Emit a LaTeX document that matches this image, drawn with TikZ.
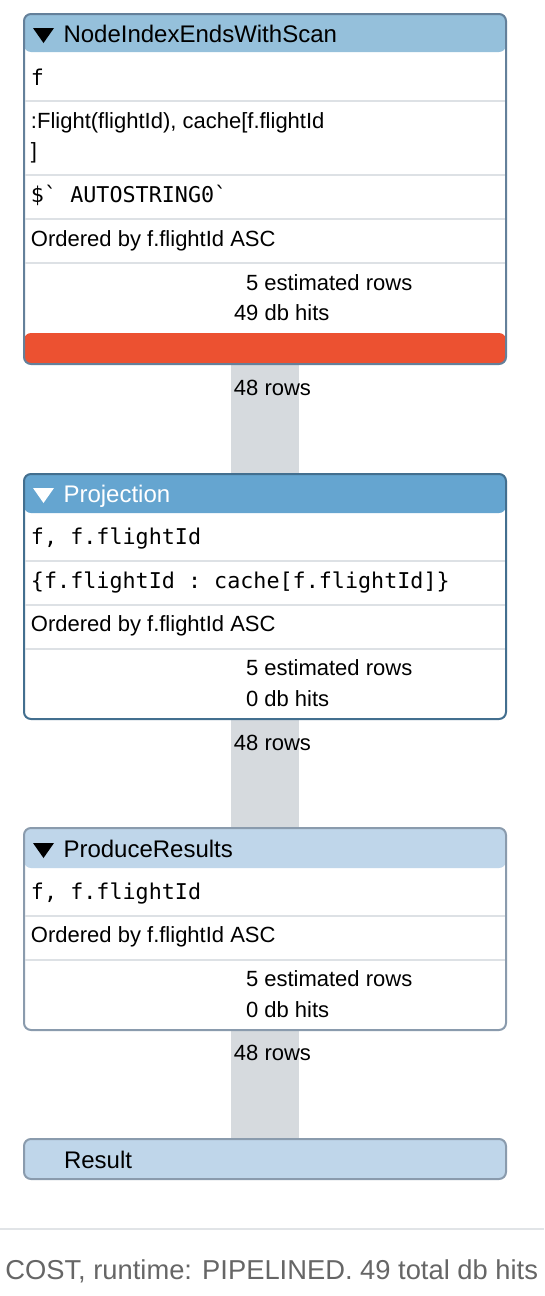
\documentclass[tikz,border=0pt]{standalone}
\usepackage{fontspec}
\setmainfont{Liberation Sans}
\setmonofont{DejaVu Sans Mono}
\usetikzlibrary{backgrounds}
\definecolor{hdrA}{HTML}{95C0DB}
\definecolor{hdrB}{HTML}{65A5D0}
\definecolor{hdrC}{HTML}{BFD6EA}
\definecolor{redc}{HTML}{EC5131}
\definecolor{bordA}{HTML}{64809A}
\definecolor{bordB}{HTML}{436F8F}
\definecolor{bordC}{HTML}{8A9BAD}
\definecolor{sepc}{HTML}{DDE1E5}
\definecolor{connc}{HTML}{D6DADE}
\definecolor{footc}{HTML}{666666}
\definecolor{footl}{HTML}{E1E4E7}
\begin{document}
\begin{tikzpicture}[x=0.75pt,y=-0.75pt,
  every node/.style={inner sep=0pt,outer sep=0pt},
  opbox/.style={rectangle,rounded corners=5.25pt,line width=1.5pt,minimum width=361.5pt,anchor=north west},
  body/.style={font=\fontsize{16.5}{20}\selectfont,anchor=base west,text=black},
  mono/.style={font=\ttfamily\fontsize{16.3}{20}\selectfont,anchor=base west,text=black},
  hdr/.style={font=\fontsize{18}{22}\selectfont,anchor=base west},
  sepline/.style={draw=sepc,line width=1.5pt},
  conn/.style={draw=connc,line width=51pt},
  rowlbl/.style={font=\fontsize{16.5}{20}\selectfont,anchor=base,text=black}
]
\useasboundingbox (0,0) rectangle (544,1296);

% Box 1
\node[opbox,draw=bordA,fill=white,minimum height=262.5pt,
  path picture={
    \fill[hdrA] (path picture bounding box.north west) rectangle ([yshift=-28.5pt]path picture bounding box.north east);
    \fill[redc] ([yshift=23.25pt]path picture bounding box.south west) rectangle (path picture bounding box.south east);
  }] (b1) at (24,14) {};
\fill (33,28) -- (54,28) -- (43.5,43) -- cycle;
\node[hdr] (b1h) at (63.5,42) {NodeIndexEndsWithScan};
\node[mono] (b1r1) at (31,85) {f};
\draw[sepline] (25,101) -- (505,101);
\node[body] (b1r2a) at (31,128) {:Flight(flightId), cache[f.flightId};
\node[body] (b1r2b) at (31,158) {]};
\draw[sepline] (25,175) -- (505,175);
\node[mono] (b1r3) at (31,202) {\$` AUTOSTRING0`};
\draw[sepline] (25,219) -- (505,219);
\node[body] (b1r4) at (31,246) {Ordered by f.flightId ASC};
\draw[sepline] (25,263) -- (505,263);
\node[body] (b1r5) at (246,290) {5 estimated rows};
\node[body] (b1r6) at (234,320) {49 db hits};

% Box 2
\node[opbox,draw=bordB,fill=white,minimum height=183.75pt,
  path picture={
    \fill[hdrB] (path picture bounding box.north west) rectangle ([yshift=-29.25pt]path picture bounding box.north east);
  }] (b2) at (24,474) {};
\fill[white] (33,488) -- (54,488) -- (43.5,503) -- cycle;
\node[hdr,text=white] (b2h) at (63.5,502) {Projection};
\node[mono] (b2r1) at (31,544) {f, f.flightId};
\draw[sepline] (25,561) -- (505,561);
\node[mono] (b2r2) at (31,588) {\{f.flightId : cache[f.flightId]\}};
\draw[sepline] (25,605) -- (505,605);
\node[body] (b2r3) at (31,631) {Ordered by f.flightId ASC};
\draw[sepline] (25,649) -- (505,649);
\node[body] (b2r4) at (246,675) {5 estimated rows};
\node[body] (b2r5) at (246,706) {0 db hits};

% Box 3
\node[opbox,draw=bordC,fill=white,minimum height=151.5pt,
  path picture={
    \fill[hdrC] (path picture bounding box.north west) rectangle ([yshift=-30pt]path picture bounding box.north east);
  }] (b3) at (24,828) {};
\fill (33,843) -- (54,843) -- (43.5,858) -- cycle;
\node[hdr] (b3h) at (63.5,857) {ProduceResults};
\node[mono] (b3r1) at (31,899) {f, f.flightId};
\draw[sepline] (25,916) -- (505,916);
\node[body] (b3r2) at (31,942) {Ordered by f.flightId ASC};
\draw[sepline] (25,960) -- (505,960);
\node[body] (b3r3) at (246,986) {5 estimated rows};
\node[body] (b3r4) at (246,1017) {0 db hits};

% Result
\node[opbox,draw=bordC,fill=hdrC,minimum height=30pt] (b4) at (24,1139) {};
\node[hdr] (b4t) at (64,1168) {Result};

% connectors and page background
\begin{scope}[on background layer]
\fill[white] (0,0) rectangle (544,1296);
\draw[conn] (b1.south) -- (b2.north);
\draw[conn] (b2.south) -- (b3.north);
\draw[conn] (b3.south) -- (b4.north);
\end{scope}
\node[rowlbl] (l1) at (272.5,395) {48 rows};
\node[rowlbl] (l2) at (272.5,750) {48 rows};
\node[rowlbl] (l3) at (272.5,1060) {48 rows};

% footer
\draw[footl,line width=1.5pt] (0,1229) -- (544,1229);
\node[font=\fontsize{20.5}{24}\selectfont,text=footc,anchor=base east] (foot) at (538,1279) {COST, runtime: PIPELINED. 49 total db hits};
\end{tikzpicture}
\end{document}
